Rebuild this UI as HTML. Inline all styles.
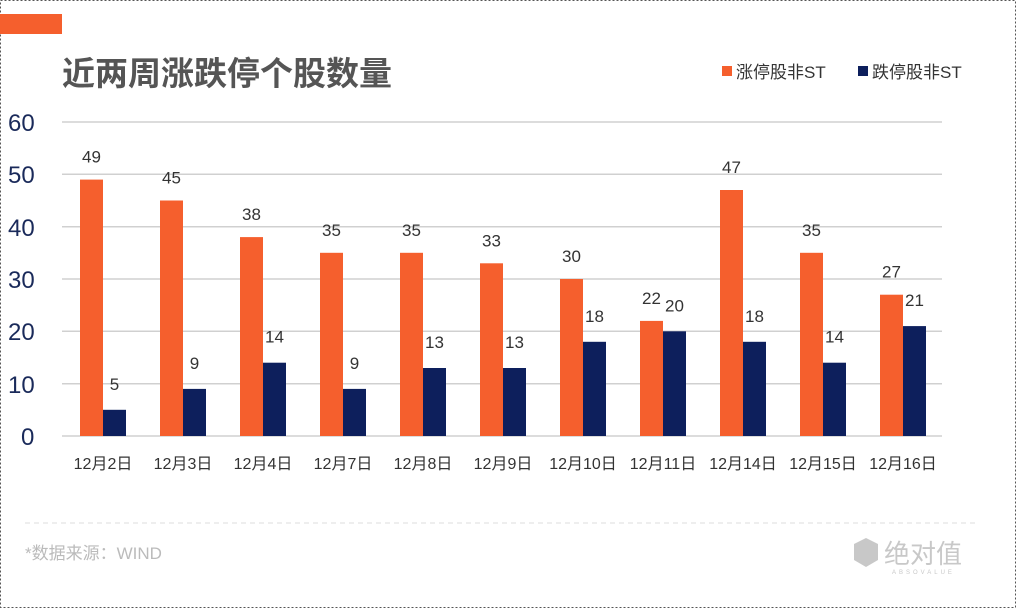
<!DOCTYPE html>
<html><head><meta charset="utf-8"><style>
body{margin:0;background:#fff;}
svg{display:block;font-family:"Liberation Sans","Noto Sans CJK SC",sans-serif;}
</style></head><body>
<svg width="1016" height="608" viewBox="0 0 1016 608" xmlns="http://www.w3.org/2000/svg">
<rect x="0.5" y="0.5" width="1015" height="607" fill="#fff" stroke="#555" stroke-dasharray="2,2"/>
<rect x="0" y="14" width="62" height="20" fill="#f55f2d"/>
<text x="62" y="85" font-size="33" font-weight="bold" fill="#555">近两周涨跌停个股数量</text>
<rect x="722" y="66" width="10" height="10" fill="#f55f2d"/>
<text x="736" y="78" font-size="17" fill="#333">涨停股非ST</text>
<rect x="858" y="66" width="10" height="10" fill="#0d1f5c"/>
<text x="872" y="78" font-size="17" fill="#333">跌停股非ST</text>
<g stroke="#d0d0d0" stroke-width="1.5">
<line x1="62" x2="942" y1="122" y2="122"/><line x1="62" x2="942" y1="174.3" y2="174.3"/>
<line x1="62" x2="942" y1="226.7" y2="226.7"/><line x1="62" x2="942" y1="279" y2="279"/>
<line x1="62" x2="942" y1="331.3" y2="331.3"/><line x1="62" x2="942" y1="383.7" y2="383.7"/>
<line x1="62" x2="942" y1="436" y2="436"/>
</g>
<g font-size="24" fill="#1a2a5a">
<text x="8" y="131">60</text><text x="8" y="183">50</text><text x="8" y="236">40</text>
<text x="8" y="288">30</text><text x="8" y="340">20</text><text x="8" y="393">10</text><text x="21" y="445">0</text>
</g>
<g fill="#f55f2d">
<rect x="80" y="179.6" width="23" height="256.4"/>
<rect x="160" y="200.5" width="23" height="235.5"/>
<rect x="240" y="237.1" width="23" height="198.9"/>
<rect x="320" y="252.8" width="23" height="183.2"/>
<rect x="400" y="252.8" width="23" height="183.2"/>
<rect x="480" y="263.3" width="23" height="172.7"/>
<rect x="560" y="279" width="23" height="157"/>
<rect x="640" y="320.9" width="23" height="115.1"/>
<rect x="720" y="190" width="23" height="246"/>
<rect x="800" y="252.8" width="23" height="183.2"/>
<rect x="880" y="294.7" width="23" height="141.3"/>
</g>
<g fill="#0d1f5c">
<rect x="103" y="409.8" width="23" height="26.2"/>
<rect x="183" y="388.9" width="23" height="47.1"/>
<rect x="263" y="362.7" width="23" height="73.3"/>
<rect x="343" y="388.9" width="23" height="47.1"/>
<rect x="423" y="368" width="23" height="68"/>
<rect x="503" y="368" width="23" height="68"/>
<rect x="583" y="341.8" width="23" height="94.2"/>
<rect x="663" y="331.3" width="23" height="104.7"/>
<rect x="743" y="341.8" width="23" height="94.2"/>
<rect x="823" y="362.7" width="23" height="73.3"/>
<rect x="903" y="326.1" width="23" height="109.9"/>
</g>
<g font-size="17" fill="#333" text-anchor="middle" transform="translate(0,-3)">
<text x="91.5" y="165.6">49</text><text x="171.5" y="186.5">45</text><text x="251.5" y="223.1">38</text>
<text x="331.5" y="238.8">35</text><text x="411.5" y="238.8">35</text><text x="491.5" y="249.3">33</text>
<text x="571.5" y="265">30</text><text x="651.5" y="306.9">22</text><text x="731.5" y="176">47</text>
<text x="811.5" y="238.8">35</text><text x="891.5" y="280.7">27</text>
</g>
<g font-size="17" fill="#333" text-anchor="middle" transform="translate(0,-2)">
<text x="114.5" y="391.8">5</text><text x="194.5" y="370.9">9</text><text x="274.5" y="344.7">14</text>
<text x="354.5" y="370.9">9</text><text x="434.5" y="350">13</text><text x="514.5" y="350">13</text>
<text x="594.5" y="323.8">18</text><text x="674.5" y="313.3">20</text><text x="754.5" y="323.8">18</text>
<text x="834.5" y="344.7">14</text><text x="914.5" y="308.1">21</text>
</g>
<g font-size="16" fill="#333" text-anchor="middle">
<text x="103" y="469">12月2日</text><text x="183" y="469">12月3日</text><text x="263" y="469">12月4日</text>
<text x="343" y="469">12月7日</text><text x="423" y="469">12月8日</text><text x="503" y="469">12月9日</text>
<text x="583" y="469">12月10日</text><text x="663" y="469">12月11日</text><text x="743" y="469">12月14日</text>
<text x="823" y="469">12月15日</text><text x="903" y="469">12月16日</text>
</g>
<line x1="25" x2="975" y1="523" y2="523" stroke="#ddd" stroke-dasharray="5,4"/>
<text x="25" y="559" font-size="17" fill="#bbb">*数据来源：WIND</text>
<polygon points="866,538 878,544 878,560 866,567 854,560 854,544" fill="#c8c8c8"/>
<text x="884" y="563" font-size="26" fill="#c8c8c8">绝对值</text>
<text x="892" y="574" font-size="6" fill="#c8c8c8" letter-spacing="3">ABSOVALUE</text>
</svg>
</body></html>
